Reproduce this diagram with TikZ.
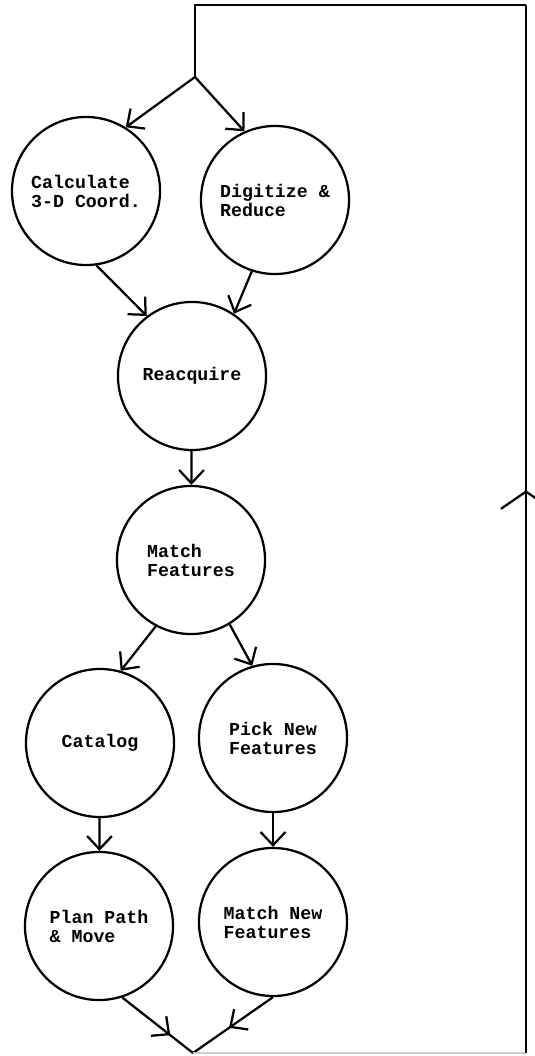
\documentclass[tikz,border=0pt]{standalone}
\usepackage{fontspec}
\newfontfamily\flowfont{Liberation Mono}
\usetikzlibrary{arrows.meta,decorations.markings}

\begin{document}
\begin{tikzpicture}[x=0.025cm,y=-0.025cm,
  proc/.style={circle,draw,line width=1.6pt,minimum size=3.7cm,inner sep=0pt,
               font=\flowfont\bfseries\fontsize{13}{13.5}\selectfont,align=left},
  flow/.style={-{Straight Barb[length=0.33cm,width=0.62cm]},line width=1.6pt},
  midflow/.style={line width=1.6pt,postaction={decorate},
    decoration={markings,mark=at position #1 with
      {\arrow{Straight Barb[length=0.33cm,width=0.62cm]}}}},
  loopflow/.style={line width=1.6pt,postaction={decorate},
    decoration={markings,mark=at position #1 with
      {\arrow{Straight Barb[length=0.43cm,width=1.25cm]}}}}
]
\useasboundingbox (0,0) rectangle (534,1056);

\node[proc] (calc)     at (86,191)  {Calculate\\3-D Coord.};
\node[proc] (digit)    at (275,200) {Digitize \&\\Reduce};
\node[proc] (reacq)    at (192,376) {Reacquire};
\node[proc] (match)    at (191,560) {Match\\Features};
\node[proc] (catalog)  at (100,743) {Catalog};
\node[proc] (pick)     at (273,738) {Pick New\\Features};
\node[proc] (plan)     at (99,926)  {Plan Path\\\& Move};
\node[proc] (matchnew) at (273,922) {Match New\\Features};

\coordinate (split)    at (195,77);
\coordinate (join)     at (193,1053);
\coordinate (topleft)  at (195,5);
\coordinate (topright) at (526,5);
\coordinate (botright) at (526,1053);

\draw[flow] (split) -- (calc.58);
\draw[flow] (split) -- (digit.114);
\draw[flow] (calc.-82) -- (reacq.127);
\draw[flow] (digit.-108) -- (reacq.56);
\draw[flow] (reacq) -- (match);
\draw[flow] (match.-118) -- (catalog.74);
\draw[flow] (match.-59) -- (pick.106);
\draw[flow] (catalog) -- (plan);
\draw[flow] (pick) -- (matchnew);
\draw[midflow=0.68] (plan.-72) -- (join);
\draw[midflow=0.55] (matchnew.south) -- (join);

% loop back to the top
\draw[gray!40,line width=0.8pt] (join) -- (botright);
\draw[loopflow=0.537] (botright) -- (topright);
\draw[line width=1.6pt] (topright) -- (topleft) -- (split);
\end{tikzpicture}
\end{document}
